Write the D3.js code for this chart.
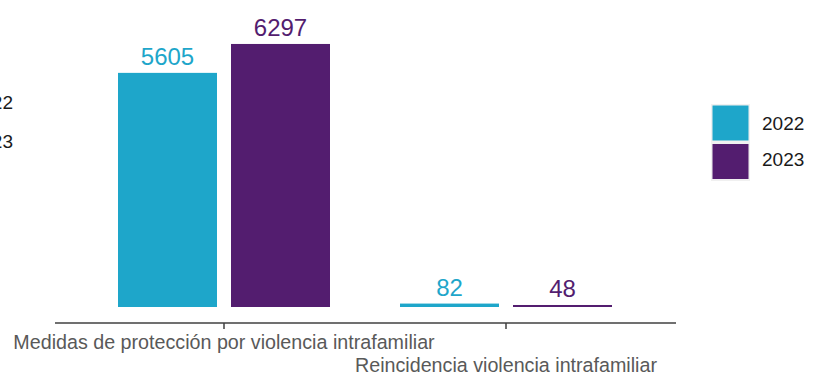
<!DOCTYPE html>
<html lang="es">
<head>
<meta charset="utf-8">
<title>Violencia intrafamiliar</title>
<script src="https://d3js.org/d3.v7.min.js"></script>
<style>
  body { margin: 0; background: #fff; }
  svg { display: block; font-family: "Liberation Sans", Arial, sans-serif; }
</style>
</head>
<body>
<div id="chart"></div>
<script>
// data
var categories = ["Medidas de protección por violencia intrafamiliar", "Reincidencia violencia intrafamiliar"];
var years = ["2022", "2023"];
var values2022 = [5605, 82];
var values2023 = [6297, 48];
var colors = ["#1ea6ca", "#531d6f"];

var width = 818, height = 378;
var svg = d3.select("#chart").append("svg")
    .attr("width", width)
    .attr("height", height);

var x = d3.scaleBand().domain(categories).range([83, 647]).padding(0);
var xInner = d3.scaleBand().domain(years).range([-106, 106]).paddingInner(0.124);
var y = d3.scaleLinear().domain([0, 7000]).range([307, 14.6]);
var color = d3.scaleOrdinal().domain(years).range(colors);

var rows = [];
categories.forEach(function(c, i) {
  rows.push({cat: c, year: "2022", value: values2022[i]});
  rows.push({cat: c, year: "2023", value: values2023[i]});
});

// bars
svg.append("g").selectAll("rect")
    .data(rows)
  .enter().append("rect")
    .attr("x", function(d) { return x(d.cat) + x.bandwidth() / 2 + xInner(d.year); })
    .attr("y", function(d) { return y(d.value); })
    .attr("width", xInner.bandwidth())
    .attr("height", function(d) { return y(0) - y(d.value); })
    .attr("fill", function(d) { return color(d.year); });

// value labels
svg.append("g").selectAll("text")
    .data(rows)
  .enter().append("text")
    .attr("x", function(d) { return x(d.cat) + x.bandwidth() / 2 + xInner(d.year) + xInner.bandwidth() / 2; })
    .attr("y", function(d) { return y(d.value) - 8; })
    .attr("text-anchor", "middle")
    .attr("font-size", 24)
    .attr("fill", function(d) { return color(d.year); })
    .text(function(d) { return d.value; });

// x axis
var axis = svg.append("g").attr("transform", "translate(0,323)");
axis.append("line")
    .attr("x1", 55).attr("x2", 676)
    .attr("stroke", "#404040").attr("stroke-width", 1.5);
axis.selectAll(".tick")
    .data(categories)
  .enter().append("line")
    .attr("x1", function(d) { return x(d) + x.bandwidth() / 2; })
    .attr("x2", function(d) { return x(d) + x.bandwidth() / 2; })
    .attr("y1", 0).attr("y2", 6)
    .attr("stroke", "#404040").attr("stroke-width", 1.5);
axis.selectAll(".lbl")
    .data(categories)
  .enter().append("text")
    .attr("x", function(d) { return x(d) + x.bandwidth() / 2; })
    .attr("y", function(d, i) { return i === 0 ? 25.5 : 49; })
    .attr("text-anchor", "middle")
    .attr("font-size", 19.7)
    .attr("fill", "#595959")
    .text(function(d) { return d; });

// legend (right)
var legend = svg.append("g").attr("transform", "translate(711,104)");
legend.append("rect")
    .attr("width", 39).attr("height", 77)
    .attr("fill", "#f0f0f0");
legend.selectAll(".sw")
    .data(years)
  .enter().append("rect")
    .attr("x", 1.5)
    .attr("y", function(d, i) { return 1.5 + i * 38.5; })
    .attr("width", 36).attr("height", 35)
    .attr("fill", function(d) { return color(d); });
legend.selectAll(".lt")
    .data(years)
  .enter().append("text")
    .attr("x", 51)
    .attr("y", function(d, i) { return 26 + i * 36; })
    .attr("font-size", 19)
    .attr("fill", "#1a1a1a")
    .text(function(d) { return d; });

// clipped legend at left edge
svg.append("g").selectAll("text")
    .data(years)
  .enter().append("text")
    .attr("x", 13)
    .attr("y", function(d, i) { return 109 + i * 39; })
    .attr("text-anchor", "end")
    .attr("font-size", 19)
    .attr("fill", "#1a1a1a")
    .text(function(d) { return d; });
</script>
</body>
</html>
